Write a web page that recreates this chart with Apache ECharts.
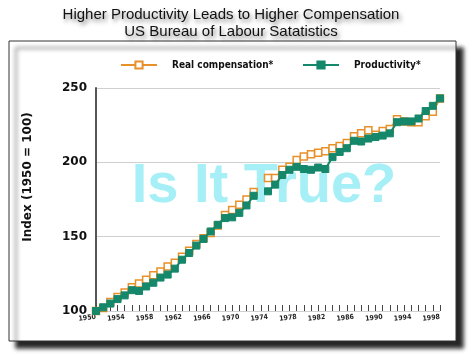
<!DOCTYPE html>
<html><head><meta charset="utf-8">
<script src="https://cdn.jsdelivr.net/npm/echarts@6/dist/echarts.min.js"></script>
<style>html,body{margin:0;padding:0;background:#fff}#c{width:476px;height:362px}</style>
</head><body><div id="c"></div>
<script>
const years = ['1950','1951','1952','1953','1954','1955','1956','1957','1958','1959',
  '1960','1961','1962','1963','1964','1965','1966','1967','1968','1969',
  '1970','1971','1972','1973','1974','1975','1976','1977','1978','1979',
  '1980','1981','1982','1983','1984','1985','1986','1987','1988','1989',
  '1990','1991','1992','1993','1994','1995','1996','1997','1998'];
const realCompensation = [100,102,106,109.5,112.5,116,118.5,121,124,126.5,
  130,132.5,136.5,140.5,145,149,152.5,157.5,164.5,168,
  171.5,175,180,null,189.5,189.5,195,197,201.5,204,
  205.5,206.5,207.5,209.5,211,213,217.5,219.5,221.5,218.5,
  221,222.5,229,227.5,227,227,231,234,243];
const productivity = [100,102.5,105,108,110.5,114,113.5,116.5,119,122.5,
  124.5,128.5,134.5,139,144,148.5,153.5,158,162.5,163,
  166,171,177.5,null,180.5,185,191.5,195,197,195.5,
  195,196.5,195.5,203.5,207,209.5,214.5,214,216,217,
  218,219.5,227,227.5,227.5,229.5,234.5,238,243];
const yTicks = [100,150,200,250];
const seriesNames = ['Real compensation*','Productivity*'];
const titleLines = ['Higher Productivity Leads to Higher Compensation','US Bureau of Labour Satatistics'];
const yAxisName = 'Index (1950 = 100)';
const watermark = 'Is It True?';

const ORANGE = '#e8902a', GREEN = '#15876a';
const NARROW = '"DejaVu Sans Condensed", "Liberation Sans Narrow", "Liberation Sans", sans-serif';
const legendText = {fontFamily: NARROW, fontWeight:'bold', fontSize:10, color:'#111', padding:[0,0,0,10]};
const chart = echarts.init(document.getElementById('c'), null, {renderer:'canvas'});
chart.setOption({
  animation: false,
  backgroundColor: '#fff',
  title: {
    text: titleLines.join('\n'),
    left: 231, top: 6, padding: 0, textAlign: 'center',
    textStyle: {fontFamily:'Liberation Sans, Arial, sans-serif', fontSize:15, fontWeight:'normal', color:'#111', lineHeight:17,
      textShadowColor:'rgba(0,0,0,0.5)', textShadowBlur:4, textShadowOffsetX:2, textShadowOffsetY:3}
  },
  graphic: [
    {type:'rect', z:-100, shape:{x:9, y:41, width:447, height:300},
     style:{fill:'#fff', stroke:'#333', lineWidth:1, shadowColor:'rgba(0,0,0,0.85)', shadowBlur:4, shadowOffsetX:7, shadowOffsetY:7}},
    {type:'text', z:1, x:264, y:187,
     style:{text:watermark, fill:'#a6eff6', font:'bold 56px "Liberation Sans", Arial, sans-serif', align:'center', verticalAlign:'middle'}},
    {type:'text', z:5, x:28, y:177, rotation:Math.PI/2,
     style:{text:yAxisName, fill:'#111', font:'bold 12px "DejaVu Sans", sans-serif', align:'center', verticalAlign:'middle'}}
  ],
  legend: [
    {left: 120, top: 60, padding: 0, itemWidth: 36, itemHeight: 9, textStyle: legendText, data: [seriesNames[0]]},
    {left: 302, top: 60, padding: 0, itemWidth: 36, itemHeight: 9, textStyle: legendText, data: [seriesNames[1]]}
  ],
  grid: {left: 96, right: 36, top: 88, bottom: 51},
  xAxis: {
    type:'category', data: years, boundaryGap:false,
    axisLine:{show:false},
    axisTick:{show:true, inside:true, length:6, interval:0, lineStyle:{color:'#444'}},
    axisLabel:{interval:3, fontSize:7, fontWeight:'bold', fontFamily: NARROW, color:'#222', margin:6, rotate:6},
    splitLine:{show:false}
  },
  yAxis: {
    type:'value', min: yTicks[0], max: yTicks[yTicks.length-1], interval: yTicks[1]-yTicks[0],
    axisLine:{show:true, lineStyle:{color:'#555', width:2}},
    axisTick:{show:false},
    axisLabel:{fontFamily:'"DejaVu Sans", sans-serif', fontWeight:'bold', fontSize:12, color:'#111', margin:9},
    splitLine:{lineStyle:{color:'#cfcfcf', width:1}}
  },
  series: [
    {name: seriesNames[0], type:'line', data: realCompensation, z:3, connectNulls:false,
     symbol:'rect', symbolSize:7, showSymbol:true, showAllSymbol:true,
     itemStyle:{color:'#fff', borderColor:ORANGE, borderWidth:1.5},
     lineStyle:{color:ORANGE, width:2}},
    {name: seriesNames[1], type:'line', data: productivity, z:4, connectNulls:false,
     symbol:'rect', symbolSize:7, showSymbol:true, showAllSymbol:true,
     itemStyle:{color:GREEN, borderColor:GREEN, borderWidth:1},
     lineStyle:{color:GREEN, width:2}}
  ]
});
</script></body></html>
